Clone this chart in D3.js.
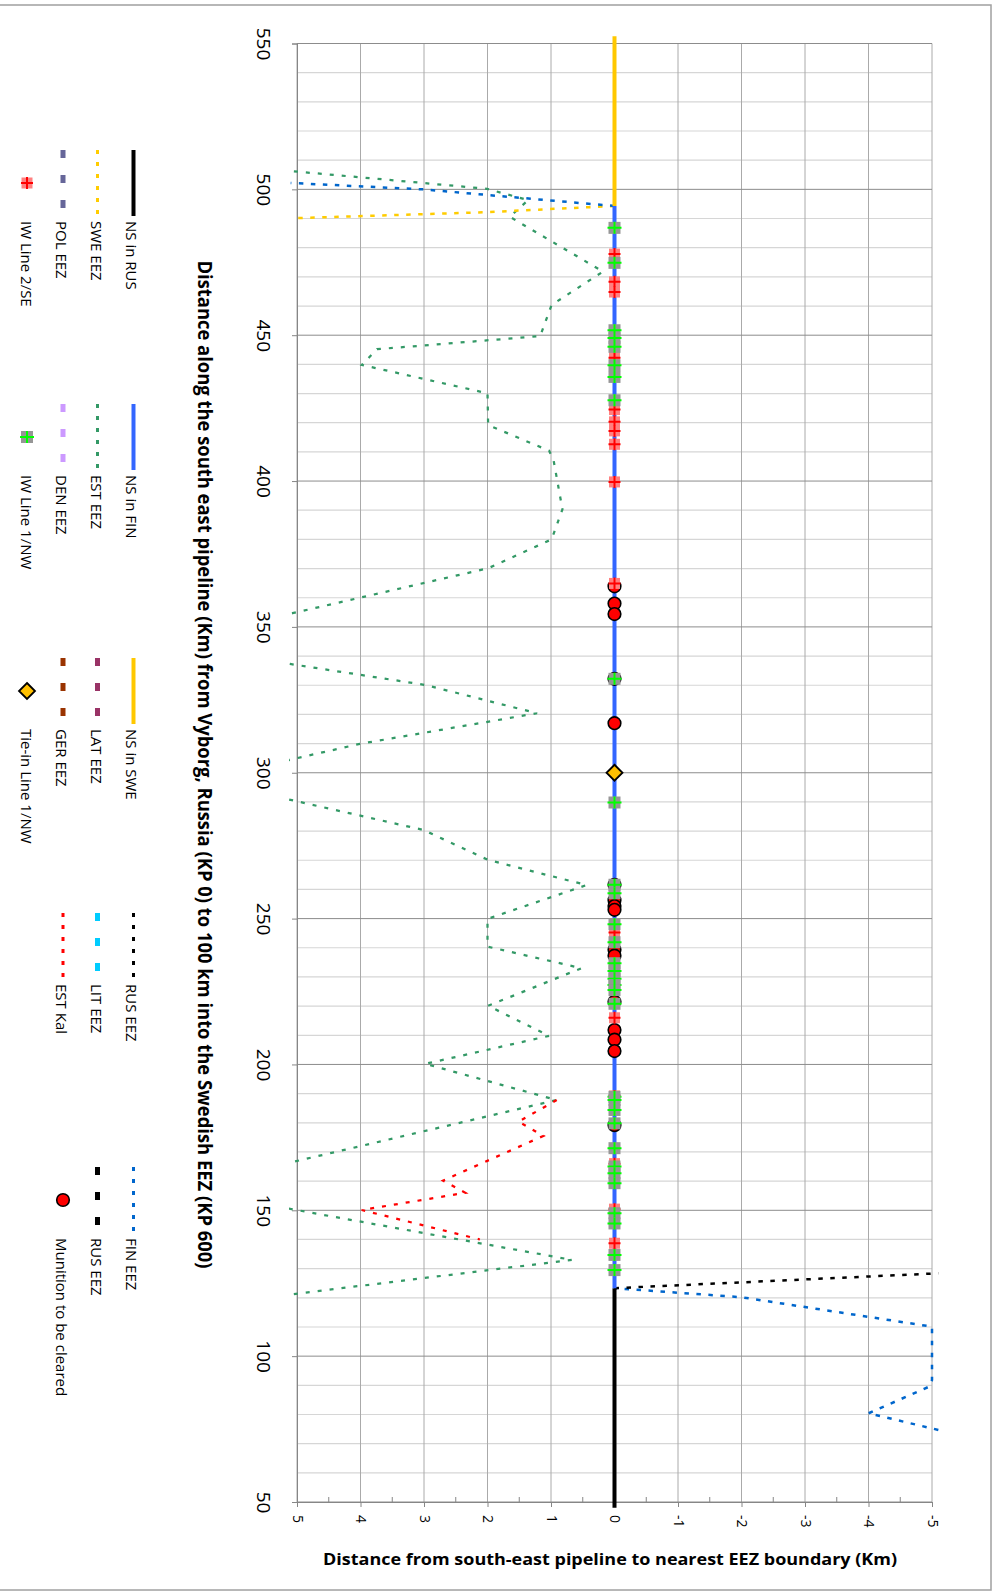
<!DOCTYPE html>
<html lang="en">
<head>
<meta charset="utf-8">
<title>South-east pipeline distance to nearest EEZ boundary</title>
<script src="https://d3js.org/d3.v7.min.js"></script>
<style>
  body { margin: 0; background: #fff; }
  text { font-family: "Open Sans", "DejaVu Sans", sans-serif; fill: #000; }
</style>
</head>
<body>
<div id="chart"></div>
<script>
// Axis ticks
const kmTicks = [50, 100, 150, 200, 250, 300, 350, 400, 450, 500, 550];
const distTicks = [5, 4, 3, 2, 1, 0, -1, -2, -3, -4, -5];

// Series as [km along pipeline, distance to EEZ boundary (km)], null = gap
const nsRus = [[48, 0], [123.3, 0]];
const nsFin = [[123.3, 0], [494.3, 0]];
const nsSwe = [[494.3, 0], [552.5, 0]];
const finEez = [[74.7, -5.1], [80.4, -4.0], [89.5, -4.95], [91.8, -5.0], [110.1, -5.0], [120.2, -2.0], [123.3, 0],
  null, [494.3, 0], [497.4, 1.65], [500.0, 3.02], [502.2, 5.1]];
const rusEez = [[123.3, 0], [128.4, -5.1]];
const sweEez = [[494.3, 0], [492.2, 2.0], [490.1, 5.05]];
const estEez = [[121.3, 5.05], [133.0, 0.67], [150.3, 5.06], [157.4, 6.9], [166.5, 5.08], [187.8, 0.91],
  [200.2, 2.98], [209.8, 1.03], [220.1, 1.99], [233.0, 0.52], [240.4, 2.0], [249.9, 2.0], [261.5, 0.44],
  [270.1, 1.99], [280.4, 3.01], [290.1, 4.98], [297.5, 6.5], [305.0, 5.0], [309.9, 4.01], [320.4, 1.22],
  [330.1, 2.98], [337.3, 5.11], [344.4, 7.2], [354.7, 5.07], [370.1, 1.99], [380.0, 0.99], [390.3, 0.82],
  [407.2, 0.96], [410.4, 1.03], [419.2, 1.99], [430.1, 2.0], [439.8, 3.98], [445.2, 3.74], [449.7, 1.17],
  [460.4, 0.99], [471.8, 0.18], [490.6, 1.65], [496.3, 1.36], [500.2, 2.01], [506.3, 5.11]];
const estKal = [[187.8, 0.91], [180.4, 1.51], [175.5, 1.12], [160.2, 2.70], [156.0, 2.35], [150.1, 3.98], [140.0, 2.12]];

// Point features on the pipeline (km)
const munitionKm = [363.9, 358.0, 354.4, 332.2, 317.0, 261.6, 256.3, 254.3, 253.0, 239.3, 237.3, 221.5,
  211.8, 208.5, 204.6, 179.2];
const iwLine2Km = [477.8, 468.3, 464.8, 442.3, 424.5, 420.3, 417.2, 412.6, 399.7, 364.9, 245.2, 216.0,
  189.2, 166.0, 150.4, 138.7];
const iwLine1Km = [486.8, 474.8, 451.7, 449.0, 446.0, 439.7, 435.7, 427.7, 332.2, 289.8, 261.6, 258.7,
  248.1, 241.9, 234.7, 232.0, 229.4, 227.2, 225.5, 220.8, 188.9, 187.8, 184.4, 179.8, 171.3, 165.0,
  162.7, 159.3, 149.0, 145.5, 134.7, 129.5];
const tieInKm = [300];

const width = 995, height = 1592;

const svg = d3.select("#chart")
    .append("svg")
    .attr("width", width)
    .attr("height", height);

// outer frame of the chart
svg.append("rect")
    .attr("x", -4).attr("y", 5)
    .attr("width", 995).attr("height", 1585)
    .attr("fill", "none")
    .attr("stroke", "#a0a0a0")
    .attr("stroke-width", 1.5);

// the chart is drawn turned a quarter clockwise: km runs bottom to top
const x = d3.scaleLinear().domain([5, -5]).range([297, 932]);
const y = d3.scaleLinear().domain([50, 550]).range([1502, 43.5]);

// gridlines
const grid = svg.append("g");
grid.selectAll("line.minor")
    .data(d3.range(60, 550, 10).filter(k => k % 50 !== 0))
    .join("line")
    .attr("x1", x(5)).attr("x2", x(-5))
    .attr("y1", d => y(d)).attr("y2", d => y(d))
    .attr("stroke", "#d6d6d6").attr("stroke-width", 1.2);
grid.selectAll("line.vert")
    .data(distTicks)
    .join("line")
    .attr("x1", d => x(d)).attr("x2", d => x(d))
    .attr("y1", y(550)).attr("y2", y(50))
    .attr("stroke", "#aaaaaa").attr("stroke-width", 1);
grid.selectAll("line.major")
    .data(kmTicks)
    .join("line")
    .attr("x1", x(5)).attr("x2", x(-5))
    .attr("y1", d => y(d)).attr("y2", d => y(d))
    .attr("stroke", "#8c8c8c").attr("stroke-width", 1);

// km axis (left)
svg.append("g")
    .attr("transform", `translate(${x(5)},0)`)
    .call(d3.axisLeft(y).tickValues(kmTicks).tickSize(5).tickFormat(d => d))
    .call(g => g.attr("font-size", null).attr("font-family", null))
    .call(g => g.select(".domain").attr("stroke", "#868686"))
    .call(g => g.selectAll(".tick line").attr("stroke", "#868686"))
    .call(g => g.selectAll(".tick text")
        .attr("x", 0).attr("dy", null)
        .attr("text-anchor", "middle")
        .attr("font-size", 19)
        .attr("transform", "translate(-40,0) rotate(90)"));

// distance axis (bottom)
svg.append("g")
    .attr("transform", `translate(0,${y(50)})`)
    .call(d3.axisBottom(x).tickValues(distTicks).tickSize(5).tickFormat(d => String(d)))
    .call(g => g.attr("font-size", null).attr("font-family", null))
    .call(g => g.select(".domain").attr("stroke", "#868686"))
    .call(g => g.selectAll(".tick line").attr("stroke", "#868686"))
    .call(g => g.selectAll(".tick text")
        .attr("y", 0).attr("dy", null)
        .attr("text-anchor", "start")
        .attr("font-size", 14)
        .attr("transform", "translate(-5,13) rotate(90)"));

// minor ticks inside the plot at half km
svg.append("g").selectAll("line")
    .data(d3.range(-4.5, 5, 1))
    .join("line")
    .attr("x1", d => x(d)).attr("x2", d => x(d))
    .attr("y1", y(50)).attr("y2", y(50) - 5)
    .attr("stroke", "#868686");

// series lines
svg.append("clipPath").attr("id", "plotclip")
    .append("rect").attr("x", 289).attr("y", 32).attr("width", 652).attr("height", 1480);

const line = d3.line()
    .defined(d => d !== null)
    .x(d => x(d[1]))
    .y(d => y(d[0]));

const lines = svg.append("g").attr("clip-path", "url(#plotclip)");

function drawLine(data, color, w, dash) {
    lines.append("path")
        .datum(data)
        .attr("d", line)
        .attr("fill", "none")
        .attr("stroke", color)
        .attr("stroke-width", w)
        .attr("stroke-dasharray", dash || null);
}

drawLine(estEez, "#339966", 2.25, "4,8");
drawLine(estKal, "#ff0000", 2.25, "4,8");
drawLine(sweEez, "#ffcc00", 2.5, "4.5,7.5");
drawLine(finEez, "#0066cc", 2.5, "4.5,7.5");
drawLine(rusEez, "#000000", 2.5, "4.5,7.5");
drawLine(nsRus, "#000000", 4);
drawLine(nsFin, "#3366ff", 4);
drawLine(nsSwe, "#ffc800", 4);

// marker helpers
function munition(g) {
    g.append("circle").attr("r", 6.3)
        .attr("fill", "#ff0000").attr("stroke", "#000").attr("stroke-width", 1.6);
}
function iw2(g) {
    g.append("rect").attr("x", -5.5).attr("y", -5.5).attr("width", 11).attr("height", 11)
        .attr("fill", "#ff8080");
    g.append("path").attr("d", "M-6,0H6M0,-6V6")
        .attr("stroke", "#ff0000").attr("stroke-width", 2);
}
function iw1(g) {
    g.append("rect").attr("x", -6).attr("y", -6).attr("width", 12).attr("height", 12)
        .attr("fill", "#969696");
    g.append("path").attr("d", "M-7,0H7M0,-6V6")
        .attr("stroke", "#00ff00").attr("stroke-width", 2);
}
function tieIn(g) {
    g.append("path").attr("d", "M0,-8L8,0L0,8L-8,0Z")
        .attr("fill", "#ffc000").attr("stroke", "#000").attr("stroke-width", 1.8);
}

function drawMarkers(kms, painter) {
    svg.append("g").selectAll("g")
        .data(kms)
        .join("g")
        .attr("transform", d => `translate(${x(0)},${y(d)})`)
        .each(function () { painter(d3.select(this)); });
}

drawMarkers(munitionKm, munition);
drawMarkers(iwLine2Km, iw2);
drawMarkers(iwLine1Km, iw1);
drawMarkers(tieInKm, tieIn);

// rotated text helper
function vText(px, py, str, size, opts = {}) {
    const t = svg.append("text")
        .attr("transform", `translate(${px},${py}) rotate(90)`)
        .attr("font-size", size)
        .attr("text-anchor", opts.anchor || "start")
        .attr("font-weight", opts.bold ? "bold" : null)
        .text(str);
    if (opts.length) t.attr("textLength", opts.length).attr("lengthAdjust", "spacingAndGlyphs");
    return t;
}

// axis titles
vText(197.5, 764.5,
    "Distance  along the south east pipeline (Km) from Vyborg, Russia (KP 0) to 100 km into the Swedish EEZ (KP 600)",
    19.5, { anchor: "middle", bold: true, length: 1008 });

svg.append("text")
    .attr("x", 610).attr("y", 1565)
    .attr("text-anchor", "middle")
    .attr("font-size", 16)
    .attr("font-weight", "bold")
    .attr("textLength", 574)
    .attr("lengthAdjust", "spacingAndGlyphs")
    .text("Distance from south-east pipeline to nearest EEZ boundary (Km)");

// legend
const legendCols = [150, 404, 658, 913, 1167];
const legendRows = [{ line: 133.5, base: 126 }, { line: 97.5, base: 90.5 }, { line: 63, base: 55.5 }, { line: 27, base: 20.5 }];
const legendItems = [
    { label: "NS in RUS", col: 0, row: 0, color: "#000000", w: 4 },
    { label: "SWE EEZ", col: 0, row: 1, color: "#ffcc00", w: 3, dash: "4,8" },
    { label: "POL EEZ", col: 0, row: 2, color: "#666699", w: 5, dash: "8,17" },
    { label: "IW Line 2/SE", col: 0, row: 3, marker: iw2 },
    { label: "NS in FIN", col: 1, row: 0, color: "#3366ff", w: 4 },
    { label: "EST EEZ", col: 1, row: 1, color: "#339966", w: 3, dash: "4,8" },
    { label: "DEN EEZ", col: 1, row: 2, color: "#cc99ff", w: 5, dash: "8,17" },
    { label: "IW Line 1/NW", col: 1, row: 3, marker: iw1 },
    { label: "NS in SWE", col: 2, row: 0, color: "#ffc800", w: 4 },
    { label: "LAT EEZ", col: 2, row: 1, color: "#993366", w: 5, dash: "8,17" },
    { label: "GER EEZ", col: 2, row: 2, color: "#993300", w: 5, dash: "8,17" },
    { label: "Tie-in Line 1/NW", col: 2, row: 3, marker: tieIn },
    { label: "RUS EEZ", col: 3, row: 0, color: "#000000", w: 3, dash: "4,8" },
    { label: "LIT EEZ", col: 3, row: 1, color: "#00ccff", w: 5, dash: "8,17" },
    { label: "EST Kal", col: 3, row: 2, color: "#ff0000", w: 3, dash: "4,8" },
    { label: "FIN EEZ", col: 4, row: 0, color: "#0066cc", w: 3, dash: "4,8" },
    { label: "RUS EEZ", col: 4, row: 1, color: "#000000", w: 5, dash: "8,17" },
    { label: "Munition to be cleared", col: 4, row: 2, marker: munition }
];

legendItems.forEach(it => {
    const y0 = legendCols[it.col];
    const r = legendRows[it.row];
    if (it.marker) {
        const g = svg.append("g").attr("transform", `translate(${r.line},${y0 + 33})`);
        it.marker(g);
    } else {
        svg.append("line")
            .attr("x1", r.line).attr("x2", r.line)
            .attr("y1", y0).attr("y2", y0 + 66)
            .attr("stroke", it.color)
            .attr("stroke-width", it.w)
            .attr("stroke-dasharray", it.dash || null);
    }
    vText(r.base, y0 + 71, it.label, 15);
});
</script>
</body>
</html>
